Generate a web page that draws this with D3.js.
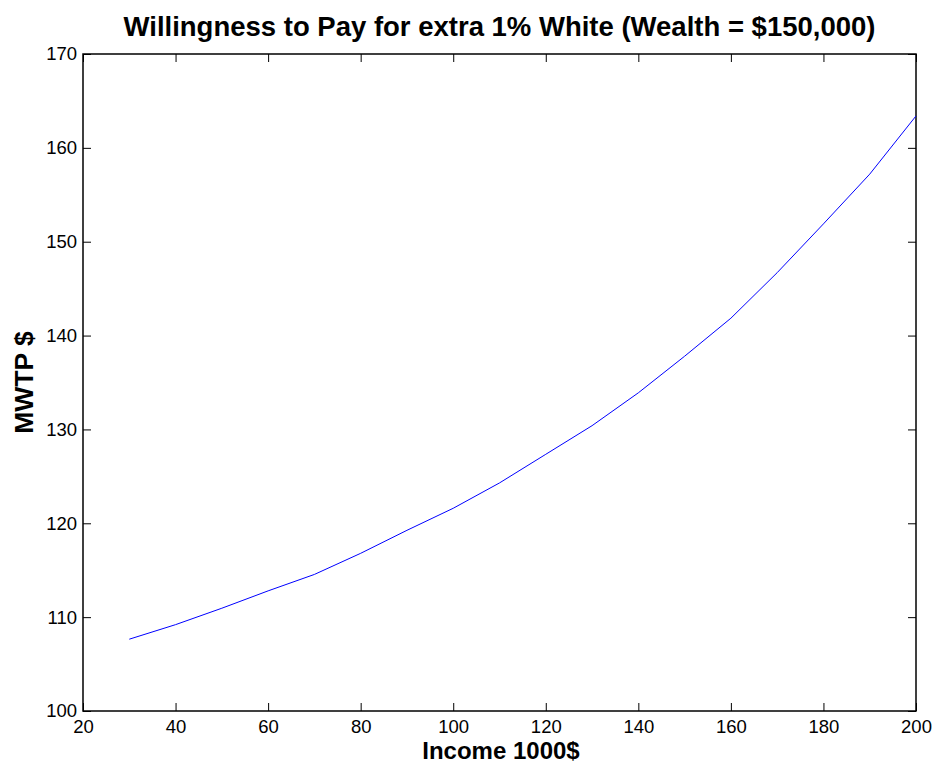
<!DOCTYPE html>
<html>
<head>
<meta charset="utf-8">
<script src="https://cdn.jsdelivr.net/npm/d3@7"></script>
<style>
  body { margin: 0; background: #fff; }
  svg text { font-family: "Liberation Sans", Arial, sans-serif; }
</style>
</head>
<body>
<div id="canvas"></div>
<script>
// income in 1000$
var income = [30, 40, 50, 60, 70, 80, 90, 100, 110, 120, 130, 140, 150, 160, 170, 180, 190, 200];
// marginal willingness to pay, $
var mwtp = [107.65, 109.2, 110.95, 112.8, 114.55, 116.8, 119.25, 121.6, 124.3, 127.35,
            130.4, 133.9, 137.8, 141.85, 146.7, 151.9, 157.2, 163.4];
var xTicks = [20, 40, 60, 80, 100, 120, 140, 160, 180, 200];
var yTicks = [100, 110, 120, 130, 140, 150, 160, 170];

var width = 934, height = 765;
var mLeft = 83, mRight = 916, mTop = 54, mBottom = 711;

var data = income.map(function (d, i) { return {x: d, y: mwtp[i]}; });

var svg = d3.select("#canvas")
    .append("svg")
    .attr("width", width)
    .attr("height", height);

var x = d3.scaleLinear().domain([20, 200]).range([mLeft, mRight]);
var y = d3.scaleLinear().domain([100, 170]).range([mBottom, mTop]);

// ticks point inward, labels only on bottom/left
var tickLen = 8;
var xAxis = d3.axisBottom(x).tickValues(xTicks).tickSizeInner(-tickLen).tickSizeOuter(0).tickPadding(9);
var yAxis = d3.axisLeft(y).tickValues(yTicks).tickSizeInner(-tickLen).tickSizeOuter(0).tickPadding(6);
var xTop = d3.axisTop(x).tickValues(xTicks).tickSizeInner(-tickLen).tickSizeOuter(0).tickFormat("");
var yRight = d3.axisRight(y).tickValues(yTicks).tickSizeInner(-tickLen).tickSizeOuter(0).tickFormat("");

function styleAxis(g) {
    g.select(".domain").remove();
    g.selectAll(".tick line").attr("stroke", "#000").attr("stroke-width", 1);
    g.selectAll(".tick text").attr("fill", "#000").style("font-size", "18.5px");
}

svg.append("g").attr("transform", "translate(0," + mBottom + ")").call(xAxis).call(styleAxis);
svg.append("g").attr("transform", "translate(" + mLeft + ",0)").call(yAxis).call(styleAxis);
svg.append("g").attr("transform", "translate(0," + mTop + ")").call(xTop).call(styleAxis);
svg.append("g").attr("transform", "translate(" + mRight + ",0)").call(yRight).call(styleAxis);

// box
svg.append("rect")
    .attr("x", mLeft).attr("y", mTop)
    .attr("width", mRight - mLeft).attr("height", mBottom - mTop)
    .attr("fill", "none").attr("stroke", "#000").attr("stroke-width", 1.5);

var line = d3.line()
    .x(function (d) { return x(d.x); })
    .y(function (d) { return y(d.y); });

svg.append("path")
    .datum(data)
    .attr("d", line)
    .attr("fill", "none")
    .attr("stroke", "#0000ff")
    .attr("stroke-width", 1);

svg.append("text")
    .attr("x", (mLeft + mRight) / 2).attr("y", 36)
    .attr("text-anchor", "middle")
    .style("font-size", "27.5px").style("font-weight", "bold")
    .text("Willingness to Pay for extra 1% White (Wealth = $150,000)");

svg.append("text")
    .attr("x", 501).attr("y", 759)
    .attr("text-anchor", "middle")
    .style("font-size", "24px").style("font-weight", "bold")
    .text("Income 1000$");

svg.append("text")
    .attr("transform", "translate(33," + ((mTop + mBottom) / 2) + ") rotate(-90)")
    .attr("text-anchor", "middle")
    .style("font-size", "26.5px").style("font-weight", "bold")
    .text("MWTP $");
</script>
</body>
</html>
